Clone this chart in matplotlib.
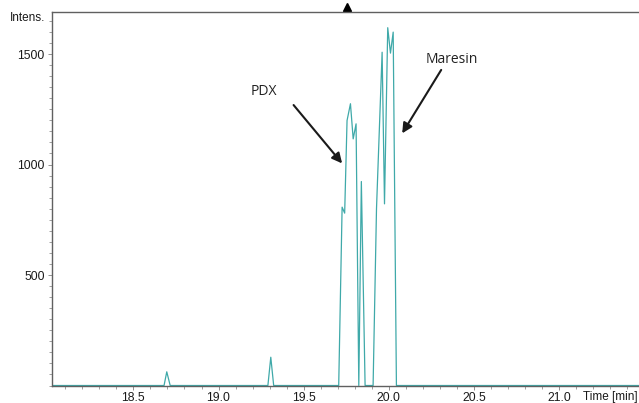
import matplotlib
matplotlib.use("Agg")
import matplotlib.pyplot as plt
from matplotlib.ticker import MultipleLocator, FixedLocator
import matplotlib.transforms as mtransforms

# Chromatogram trace (time in min, intensity)
time_min = [18.02, 18.68, 18.696, 18.716, 19.29, 19.307, 19.324,
            19.706, 19.726, 19.741, 19.755, 19.775, 19.791, 19.808, 19.824,
            19.839, 19.861, 19.908, 19.928, 19.961, 19.975, 19.994, 20.010,
            20.026, 20.045, 21.47]
intensity = [0, 0, 62, 0, 0, 128, 0,
             0, 807, 780, 1199, 1275, 1116, 1184, 0,
             923, 0, 0, 800, 1508, 822, 1619, 1504,
             1599, 0, 0]

x_major = [18.5, 19.0, 19.5, 20.0, 20.5, 21.0]
x_labels = ["18.5", "19.0", "19.5", "20.0", "20.5", "21.0"]
y_major = [500, 1000, 1500]
y_labels = ["500", "1000", "1500"]

plt.rcParams['font.family'] = ['Liberation Sans', 'DejaVu Sans']

fig = plt.figure(figsize=(6.39, 4.03), dpi=100)
ax = fig.add_axes([0.0809, 0.0434, 0.9191, 0.9268])

ax.plot(time_min, intensity, color='#3fa9a9', lw=0.9)

ax.set_xlim(18.02, 21.47)
ax.set_ylim(0, 1690)

ax.xaxis.set_major_locator(FixedLocator(x_major))
ax.set_xticklabels(x_labels)
ax.xaxis.set_minor_locator(MultipleLocator(0.1))
ax.yaxis.set_major_locator(FixedLocator(y_major))
ax.set_yticklabels(y_labels)
ax.yaxis.set_minor_locator(MultipleLocator(50))

spine_col = '#606060'
for s in ['left', 'top', 'bottom']:
    ax.spines[s].set_color(spine_col)
    ax.spines[s].set_linewidth(1.0)
ax.spines['right'].set_visible(False)

ax.tick_params(axis='both', which='major', direction='out', length=3,
               width=0.6, color='#808080', labelsize=8.8, labelcolor='#1a1a1a', pad=2)
ax.tick_params(axis='both', which='minor', direction='out', length=2,
               width=0.6, color='#909090')

fig.text(10 / 639, 1 - 18 / 403, "Intens.", fontsize=8.5, color='#1a1a1a',
         ha='left', va='center')
fig.text(638 / 639, 1 - 397 / 403, "Time [min]", fontsize=8.5, color='#1a1a1a',
         ha='right', va='center')

# Top marker triangle
trans = mtransforms.blended_transform_factory(ax.transData, fig.transFigure)
ax.plot([19.755], [1 - 7 / 403], marker='^', color='black', markersize=6,
        transform=trans, clip_on=False)

# Annotations
ann_font = ['Open Sans', 'DejaVu Sans']
ax.annotate("", xy=(19.726, 1005), xytext=(19.441, 1269),
            arrowprops=dict(arrowstyle='-|>', color='#1a1a1a', lw=1.5,
                            mutation_scale=15, shrinkA=0, shrinkB=0))
ax.text(19.265, 1329, "PDX", fontsize=10, family=ann_font, color='#222222',
        ha='center', va='center')
ax.annotate("", xy=(20.079, 1141), xytext=(20.308, 1428),
            arrowprops=dict(arrowstyle='-|>', color='#1a1a1a', lw=1.5,
                            mutation_scale=15, shrinkA=0, shrinkB=0))
ax.text(20.373, 1477, "Maresin", fontsize=10, family=ann_font, color='#222222',
        ha='center', va='center')

fig.savefig("out.png", dpi=100)
